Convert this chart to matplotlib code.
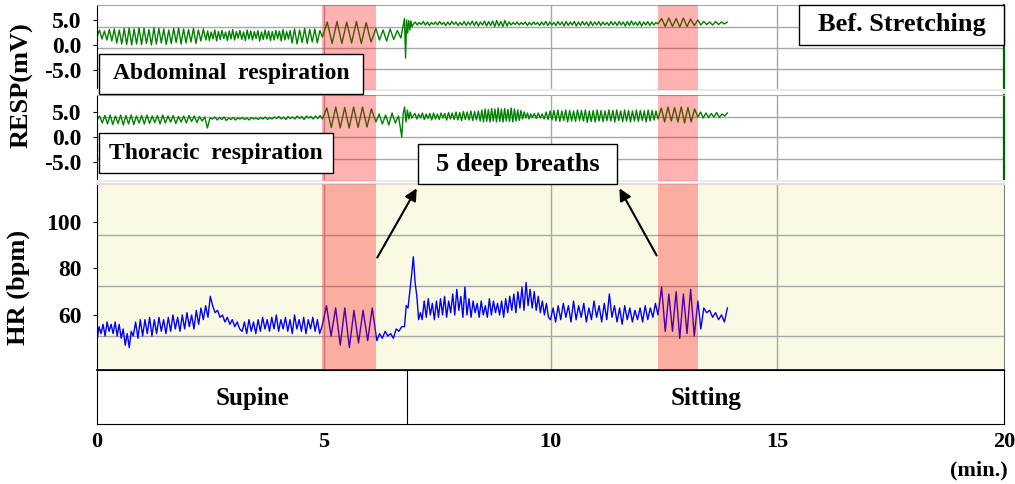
import numpy as np
import matplotlib
matplotlib.use("Agg")
import matplotlib.pyplot as plt
from matplotlib.patches import Rectangle

plt.rcParams['font.family'] = ['Liberation Serif', 'DejaVu Serif']
plt.rcParams['font.weight'] = 'bold'

# --- data ---
x_ticks = [0, 5, 10, 15, 20]

# deep breathing windows (min.)
deep_start = [4.97, 12.37]
deep_end = [6.15, 13.25]

# posture periods (min.)
posture_names = ['Supine', 'Sitting']
posture_bounds = [0.0, 6.84, 20.0]

# abdominal respiration (mV): alternating peak / trough values per segment
abd_bounds = [0.0, 2.4, 4.3, 4.97, 6.15, 6.78, 6.97, 12.37, 13.25, 13.9]
abd_sup1 = [1.6, 3.0, 1.2, 2.8, 1.0, 3.1, 0.8, 3.2, 0.4, 3.0, 0.2, 3.3, 0.1, 3.4, 0.0,
            3.2, 0.2, 3.4, 0.1, 3.3, 0.3, 3.1, 0.0, 3.4, 0.2, 3.3, 0.4, 3.2, 0.1, 3.0,
            0.3, 3.3, 0.5, 3.4, 0.2, 3.2, 0.4, 3.1, 0.6, 3.3, 0.3, 3.0, 0.8, 3.2]
abd_sup2 = [1.0, 2.8, 0.9, 2.6, 1.2, 3.0, 0.8, 2.7, 1.1, 2.9, 1.3, 2.6, 0.9, 2.8, 1.2,
            3.1, 1.0, 2.7, 1.4, 2.9, 1.1, 2.6, 0.9, 3.0, 1.2, 2.8, 1.0, 2.7, 1.3, 2.9,
            0.8, 2.6, 1.1, 3.0, 1.2, 2.8, 0.9, 2.7, 1.0, 2.9, 1.3, 2.8, 0.8, 3.1, 1.0,
            2.7, 1.2, 2.9]
abd_sup3 = [0.4, 3.2, 0.2, 3.0, 0.5, 3.3, 0.3, 3.1, 0.6, 3.2, 0.4, 2.9]
abd_deep1 = [1.6, 4.6, 0.3, 4.7, 0.3, 4.6, 0.4, 4.7, 0.3, 4.5, 0.6]
abd_mid = [3.3, 1.0, 3.0, 0.8, 3.2, 1.1, 2.9, 1.4]
abd_art = [5.3, -2.6, 5.0, 2.4, 4.9, 3.0, 4.8, 3.6]
abd_sit = [4.1, 4.6, 4.0, 4.5, 4.1, 4.7, 4.0, 4.6, 3.9, 4.5, 4.1, 4.6, 4.0, 4.7, 4.1,
           4.5, 3.9, 4.6, 4.0, 4.7, 4.1, 4.6, 3.9, 4.5, 4.0, 4.7, 3.9, 4.6, 4.0, 4.8,
           3.9, 4.7, 3.8, 4.6, 4.0, 4.8, 3.8, 4.7, 3.9, 4.8, 3.7, 4.9, 3.8, 4.7, 3.7,
           4.9, 3.8, 4.6, 4.0, 4.5, 4.1, 4.6, 4.0, 4.5, 4.1, 4.6, 3.9, 4.5, 4.0, 4.6,
           4.1, 4.5, 3.9, 4.6, 4.0, 4.7, 3.9, 4.6, 4.0, 4.5, 3.9, 4.7, 4.0, 4.6, 3.8,
           4.7, 3.9, 4.6, 4.0, 4.7, 3.8, 4.6, 3.9, 4.7, 4.0, 4.6, 3.8, 4.7, 3.9, 4.6,
           4.0, 4.7, 3.9, 4.6, 4.0, 4.5, 3.9, 4.7, 4.0, 4.6, 3.9, 4.7, 4.0, 4.6, 3.8,
           4.7, 3.9, 4.8, 4.0, 4.6, 3.9, 4.7, 3.8, 4.6, 4.0, 4.7, 3.9, 4.6, 4.0, 4.5]
abd_deep2 = [4.2, 5.3, 3.7, 5.4, 3.7, 5.3, 3.6, 5.4, 3.7, 5.2, 3.9]
abd_end = [5.0, 4.0, 4.7, 4.1, 4.6, 4.0, 4.7, 4.1, 4.6, 4.2, 4.6]

# thoracic respiration (mV)
thr_bounds = [0.0, 2.55, 4.97, 6.15, 6.72, 6.97, 8.45, 9.6, 12.37, 13.25, 13.9]
thr_sup1 = [3.4, 4.2, 2.8, 4.3, 2.6, 4.4, 2.5, 4.2, 2.7, 4.4, 2.4, 4.3, 2.6, 4.4, 2.5,
            4.2, 2.8, 4.3, 2.6, 4.4, 2.7, 4.2, 2.9, 4.3, 2.6, 4.4, 2.8, 4.2, 3.0, 4.3,
            2.7, 4.1, 3.0, 4.2, 2.8, 4.3, 3.1, 4.2, 2.9, 4.1, 3.2, 4.0, 1.8, 3.8]
thr_sup2 = [3.6, 4.0, 3.4, 3.9, 3.5, 4.0, 3.3, 3.8, 3.5, 3.9, 3.4, 3.8, 3.6, 3.9, 3.5,
            3.8, 3.4, 3.9, 3.6, 3.8, 3.5, 3.9, 3.6, 4.0, 3.5, 3.9, 3.6, 4.0, 3.7, 4.1,
            3.6, 4.0, 3.5, 4.1, 3.7, 4.0, 3.6, 4.2, 3.7, 4.1, 3.5, 4.2, 3.8, 4.1, 3.6,
            4.2, 3.7, 4.3]
thr_deep1 = [3.6, 5.8, 1.9, 6.0, 1.8, 5.9, 1.8, 6.0, 1.9, 6.0, 2.0, 5.6]
thr_mid = [3.0, 4.6, 2.6, 4.4, 2.4, 4.8, 2.8, 4.2]
thr_art = [0.0, 4.6, 6.0, 3.0, 5.4, 3.6, 5.0, 3.8]
thr_sit1 = [4.2, 4.7, 3.6, 4.6, 3.8, 4.8, 3.5, 4.6, 3.7, 4.7, 3.4, 4.8, 3.6, 4.6, 3.5,
            4.8, 3.8, 4.7, 3.4, 4.9, 3.6, 4.8, 3.5, 5.0, 3.4, 4.9, 3.3, 5.1, 3.5, 5.0,
            3.4, 5.2, 3.3, 5.1, 3.4, 5.2]
thr_sit2 = [3.2, 5.4, 3.0, 5.6, 3.1, 5.5, 3.0, 5.7, 3.2, 5.6, 3.0, 5.8, 3.1, 5.6, 3.0,
            5.7, 3.2, 5.5, 3.1, 5.8, 3.0, 5.6, 3.2, 5.4, 3.3, 5.3, 3.6, 5.0, 3.8, 4.8,
            3.6, 4.6]
thr_sit3 = [3.9, 4.7, 3.7, 4.8, 3.8, 4.6, 3.6, 5.0, 3.5, 5.2, 3.4, 5.3, 3.2, 5.4, 3.1,
            5.2, 3.3, 5.4, 3.0, 5.3, 3.2, 5.2, 3.1, 5.4, 3.3, 5.3, 3.2, 5.4, 2.9, 5.2,
            3.1, 5.3, 3.0, 5.4, 3.2, 5.3, 3.1, 5.2, 3.3, 5.4, 3.2, 5.3, 3.0, 5.4, 3.3,
            5.2, 3.1, 5.4, 3.2, 5.3, 3.0, 5.2, 3.2, 5.4, 3.1, 5.3, 3.3, 5.2, 3.0, 5.4,
            3.2, 5.3, 3.4, 5.2]
thr_deep2 = [3.6, 5.8, 3.0, 6.0, 3.2, 5.9, 3.0, 6.0, 2.8, 5.9, 3.0, 5.6]
thr_end = [4.0, 5.0, 3.8, 4.8, 3.9, 4.7, 4.0, 4.9, 3.9, 4.6, 4.2, 4.8]

# heart rate (bpm)
hr_bounds = [0.0, 0.8, 2.55, 3.2, 4.96, 6.17, 6.78, 7.17, 10.0, 12.37, 13.25, 13.9]
hr_a = [49, 55, 52, 56, 51, 57, 53, 56, 52, 57, 51, 56, 50, 54, 47, 52, 46, 53]
hr_b = [51, 57, 50, 58, 51, 58, 52, 59, 51, 58, 52, 59, 53, 58, 52, 59, 53, 60, 54, 59,
        53, 60, 54, 61, 55, 60, 54, 62, 56, 63, 58, 64, 59, 68]
hr_c = [64, 61, 62, 59, 60, 57, 59, 56, 58, 55, 57, 54]
hr_d = [53, 57, 52, 58, 53, 57, 52, 58, 53, 59, 54, 58, 53, 59, 54, 60, 53, 58, 54, 59,
        53, 58, 52, 60, 54, 58, 53, 59, 52, 58, 54, 59, 53, 58, 52]
hr_deep1 = [55, 64, 51, 63, 47, 63, 46, 62, 48, 62, 49, 63]
hr_e = [49, 52, 50, 53, 51, 52, 50, 54, 53, 55]
hr_f = [55, 64, 63, 70, 77, 85, 74, 68, 58, 61]
hr_g = [58, 66, 59, 67, 60, 65, 58, 66, 59, 67, 60, 68, 59, 66, 61, 69, 60, 71, 62, 68,
        59, 72, 60, 67, 59, 66, 61, 65, 59, 66, 60, 64, 59, 67, 60, 66, 61, 65, 60, 66,
        59, 67, 61, 68, 62, 69, 61, 70, 63, 72, 62, 74, 64, 71, 63, 70, 62, 68, 61, 66,
        60, 65, 59]
hr_h = [58, 63, 57, 64, 58, 65, 59, 64, 57, 66, 58, 64, 59, 65, 57, 63, 58, 66, 59, 64,
        57, 65, 58, 69, 59, 64, 57, 63, 56, 64, 58, 63, 57, 62, 58, 63, 57, 64, 58, 63,
        59, 65]
hr_deep2 = [60, 72, 53, 69, 53, 70, 50, 69, 52, 71, 51]
hr_end = [66, 54, 63, 61, 62, 59, 61, 58, 60, 57, 63]


def build_trace(bounds, parts):
    # spread each segment's values evenly over its time span
    ts, vs = [], []
    for i, part in enumerate(parts):
        last = i == len(parts) - 1
        ts.append(np.linspace(bounds[i], bounds[i + 1], len(part), endpoint=last))
        vs.append(np.asarray(part, dtype=float))
    return np.concatenate(ts), np.concatenate(vs)


abd_t, abd_v = build_trace(abd_bounds, [abd_sup1, abd_sup2, abd_sup3, abd_deep1, abd_mid,
                                        abd_art, abd_sit, abd_deep2, abd_end])
thr_t, thr_v = build_trace(thr_bounds, [thr_sup1, thr_sup2, thr_deep1, thr_mid, thr_art,
                                        thr_sit1, thr_sit2, thr_sit3, thr_deep2, thr_end])
hr_t, hr_v = build_trace(hr_bounds, [hr_a, hr_b, hr_c, hr_d, hr_deep1, hr_e, hr_f,
                                     hr_g, hr_h, hr_deep2, hr_end])

# --- layout (pixels of the 1015x484 picture) ---
W, H = 1015, 484
fig = plt.figure(figsize=(W / 100, H / 100), dpi=100)


def px_axes(y_top, y_bot, x0=97, x1=1004):
    return fig.add_axes([x0 / W, 1 - y_bot / H, (x1 - x0) / W, (y_bot - y_top) / H])


ax1 = px_axes(5, 90)
ax2 = px_axes(95, 181)
ax3 = px_axes(184, 370)
ax4 = px_axes(370, 424)

grid_col = '#A8A8A8'
panels = [
    (ax1, abd_t, abd_v, '#008000', (-9.0, 8.0), [3.6, -0.6, -4.8]),
    (ax2, thr_t, thr_v, '#008000', (-8.8, 8.4), [4.0, 0.0, -4.4]),
    (ax3, hr_t, hr_v, '#0000FF', (36.4, 116.2), [94.3, 72.4, 51.0]),
]
for ax, t, v, col, ylim, hgrid in panels:
    ax.plot(t, v, color=col, lw=1.0, zorder=2)
    ax.set_xlim(0, 20)
    ax.set_ylim(*ylim)
    for g in hgrid:
        ax.axhline(g, color=grid_col, lw=1, zorder=1)
    for xv in x_ticks[1:-1]:
        ax.axvline(xv, color=grid_col, lw=1, zorder=1)
    for s, e in zip(deep_start, deep_end):
        ax.axvspan(s, e, color='red', alpha=0.3, lw=0, zorder=3)
    ax.set_xticks([])
    ax.tick_params(axis='y', length=3, pad=8, labelsize=17)
    ax.spines['left'].set_color('black')

for ax in (ax1, ax2):
    ax.set_yticks([5, 0, -5])
    ax.set_yticklabels(['5.0', '0.0', '-5.0'])
    ax.spines['top'].set_color(grid_col)
    ax.spines['bottom'].set_color('#EBEBEB')
    ax.spines['bottom'].set_linewidth(1.5)
    ax.spines['right'].set_color('#006400')
    ax.spines['right'].set_linewidth(1.6)

ax3.set_facecolor('#FAFAE4')
ax3.set_yticks([100, 80, 60])
ax3.spines['top'].set_color('#E0E0E0')
ax3.spines['top'].set_linewidth(1.5)
ax3.spines['right'].set_color('#808080')
ax3.spines['bottom'].set_linewidth(1.2)

# posture band with the time axis
ax4.set_xlim(0, 20)
ax4.set_ylim(0, 1)
ax4.set_yticks([])
ax4.set_xticks(x_ticks)
ax4.set_xticklabels([str(x) for x in x_ticks])
ax4.tick_params(axis='x', length=0, pad=6, labelsize=16)
for b in posture_bounds[1:-1]:
    ax4.axvline(b, color='black', lw=0.8)
for name, a, b in zip(posture_names, posture_bounds[:-1], posture_bounds[1:]):
    ax4.text((a + b) / 2, 0.48, name, ha='center', va='center', fontsize=18)

fig.text(1008 / W, 1 - 470 / H, '(min.)', ha='right', va='center', fontsize=16)
fig.text(22 / W, 1 - 85 / H, 'RESP(mV)', rotation=90, ha='center', va='center',
         fontsize=19)
fig.text(18 / W, 1 - 287 / H, 'HR (bpm)', rotation=90, ha='center', va='center',
         fontsize=19)


def px_box(x0, y0, x1, y1, text, size):
    fig.add_artist(Rectangle((x0 / W, 1 - y1 / H), (x1 - x0) / W, (y1 - y0) / H,
                             transform=fig.transFigure, facecolor='white',
                             edgecolor='black', lw=1, zorder=5))
    fig.text((x0 + x1) / 2 / W, 1 - (y0 + y1) / 2 / H, text, ha='center', va='center',
             fontsize=size, zorder=6)


px_box(99, 54, 363, 94, 'Abdominal  respiration', 17)
px_box(99, 133, 333, 173, 'Thoracic  respiration', 17)
px_box(799, 5, 1004, 45, 'Bef. Stretching', 19)
px_box(418, 144, 617, 184, '5 deep breaths', 19)

# arrows from the deep breathing windows up to the label box corners
tip_y = 115.4
arrow_kw = dict(arrowstyle='-|>', color='black', lw=1.5, mutation_scale=18)
ax3.annotate('', xy=(7.08, tip_y), xytext=(deep_end[0], 83.6),
             arrowprops=arrow_kw, annotation_clip=False, zorder=6)
ax3.annotate('', xy=(11.49, tip_y), xytext=(deep_start[1], 84.5),
             arrowprops=arrow_kw, annotation_clip=False, zorder=6)

fig.savefig('out.png', dpi=100)
